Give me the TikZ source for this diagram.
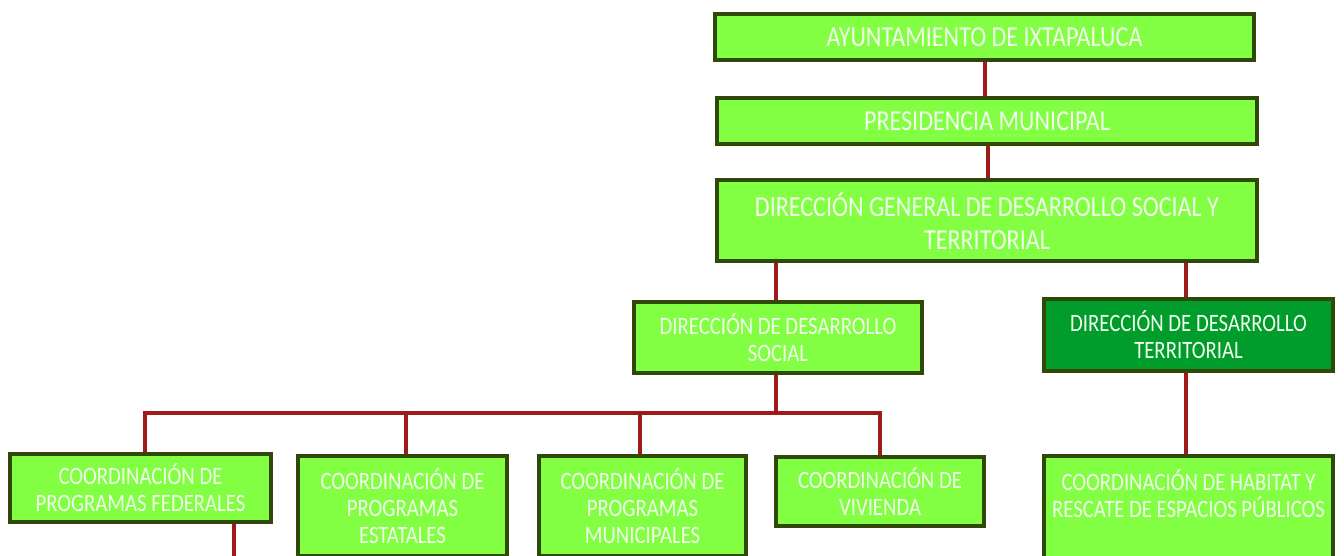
\documentclass[tikz,border=0pt]{standalone}
\usepackage{fontspec}
\setmainfont[FakeStretch=0.83]{Carlito}
\definecolor{lime}{RGB}{130,255,66}
\definecolor{dgreen}{RGB}{0,156,44}
\definecolor{olive}{RGB}{48,72,8}
\definecolor{conn}{RGB}{160,26,26}
\definecolor{txt}{RGB}{242,255,236}
\tikzset{
  box/.style={draw=olive, line width=4pt, fill=lime, text=txt, align=center, inner sep=0pt, rectangle},
  big/.style={font=\fontsize{29}{33}\selectfont},
  small/.style={font=\fontsize{25}{27}\selectfont},
  link/.style={draw=conn, line width=4.5pt}
}
\begin{document}
\begin{tikzpicture}[x=1pt,y=1pt]
\useasboundingbox (0,0) rectangle (1344,-556);
\clip (0,0) rectangle (1344,-556);
\node[box,big,minimum width=539pt,minimum height=46pt] (ayu) at (984.5,-37) {AYUNTAMIENTO DE IXTAPALUCA};
\node[box,big,minimum width=540pt,minimum height=46pt] (pres) at (987,-121) {PRESIDENCIA MUNICIPAL};
\node[box,big,minimum width=540pt,minimum height=81pt] (dg) at (987,-220.5) {DIRECCIÓN GENERAL DE DESARROLLO SOCIAL Y\\TERRITORIAL};
\node[box,small,minimum width=288pt,minimum height=71pt] (ds) at (778,-337.5) {DIRECCIÓN DE DESARROLLO\\SOCIAL};
\node[box,small,fill=dgreen,minimum width=289pt,minimum height=72pt] (dt) at (1188.5,-335) {DIRECCIÓN DE DESARROLLO\\TERRITORIAL};
\node[box,small,minimum width=261pt,minimum height=68pt] (cf) at (140.5,-488) {COORDINACIÓN DE\\PROGRAMAS FEDERALES};
\node[box,small,minimum width=209pt,minimum height=100pt] (ce) at (402.5,-506) {COORDINACIÓN DE\\PROGRAMAS\\ESTATALES};
\node[box,small,minimum width=207pt,minimum height=100pt] (cm) at (642.5,-506) {COORDINACIÓN DE\\PROGRAMAS\\MUNICIPALES};
\node[box,small,minimum width=208pt,minimum height=69pt] (cv) at (880,-491.5) {COORDINACIÓN DE\\VIVIENDA};
\node[box,small,minimum width=289pt,minimum height=102pt] (ch) at (1188.5,-507) {COORDINACIÓN DE HABITAT Y\\RESCATE DE ESPACIOS PÚBLICOS\\\mbox{}};
\coordinate (bar) at (776,-413);
\coordinate (fdown) at (234,-570);
\draw[link] (ayu.south -| 985,0) -- (pres.north -| 985,0);
\draw[link] (pres.south -| 988,0) -- (dg.north -| 988,0);
\draw[link] (dg.south -| 776,0) -- (ds.north -| 776,0);
\draw[link] (dg.south -| 1186,0) -- (dt.north -| 1186,0);
\draw[link] (ds.south -| 776,0) -- (bar);
\draw[link] (cf.north -| 145,0) |- (bar);
\draw[link] (cv.north -| 880,0) |- (bar);
\draw[link] (ce.north -| 406,0) -- (406,-413);
\draw[link] (cm.north -| 640,0) -- (640,-413);
\draw[link] (dt.south -| 1186,0) -- (ch.north -| 1186,0);
\draw[link] (cf.south -| 234,0) -- (fdown);
\end{tikzpicture}
\end{document}
